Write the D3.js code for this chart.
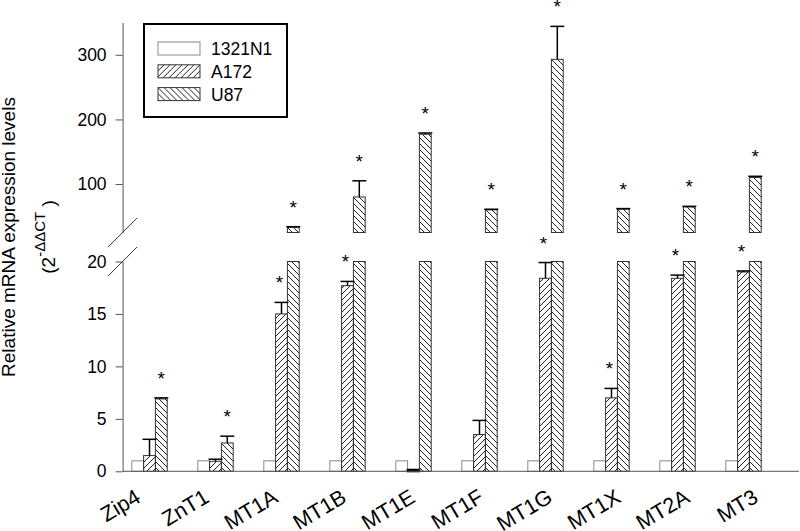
<!DOCTYPE html>
<html>
<head>
<meta charset="utf-8">
<script src="https://cdn.jsdelivr.net/npm/d3@7"></script>
<style>
  body { margin: 0; background: #fff; }
  svg text { font-family: "Liberation Sans", Arial, sans-serif; }
</style>
</head>
<body>
<svg id="chart" width="800" height="531"></svg>
<script>
// data
let genes = ["Zip4","ZnT1","MT1A","MT1B","MT1E","MT1F","MT1G","MT1X","MT2A","MT3"];
let lines = ["1321N1","A172","U87"];

let val1321 = [1,1,1,1,1,1,1,1,1,1];
let err1321 = [0,0,0,0,0,0,0,0,0,0];
let valA172 = [1.5, 0.95, 15.0, 17.7, 0.15, 3.5, 18.4, 7.0, 18.4, 19.0];
let errA172 = [1.55, 0.2, 1.1, 0.4, 0, 1.35, 1.5, 0.9, 0.3, 0.1];
let valU87 = [6.9, 2.7, 33, 80, 177, 60, 293, 61, 64.5, 110];
let errU87 = [0.1, 0.65, 1, 25, 2, 1, 51, 1, 1, 2];

let starA172 = [false,false,true,true,false,false,true,true,true,true];
let starU87 = [true,true,true,true,true,true,true,true,true,true];

let lowTicks = [0,5,10,15,20];
let highTicks = [100,200,300];

let width = 800, height = 531;
let axisX = 122.6;
let barW = 11.8;

let svg = d3.select("#chart");

// hatch patterns
let defs = svg.append("defs");
defs.append("pattern")
    .attr("id","fwd").attr("patternUnits","userSpaceOnUse")
    .attr("width",6).attr("height",6)
  .append("path")
    .attr("d","M-1,1 L1,-1 M0,6 L6,0 M5,7 L7,5")
    .attr("stroke","#222").attr("stroke-width",1);
defs.append("pattern")
    .attr("id","back").attr("patternUnits","userSpaceOnUse")
    .attr("width",6).attr("height",6)
  .append("path")
    .attr("d","M-1,5 L1,7 M0,0 L6,6 M5,-1 L7,1")
    .attr("stroke","#222").attr("stroke-width",1);

let fills = ["#fff","url(#fwd)","url(#back)"];

let x = d3.scaleBand().domain(genes).range([116.5, 776.5]);
// tick labels sit on their own, slightly wider spacing
let xLab = d3.scalePoint().domain(genes).range([142, 759.6]);
let yLow = d3.scaleLinear().domain([0,20]).range([471.3, 261.5]);
let yHigh = d3.scaleLinear().domain([25,350]).range([232.5, 22.5]);

let rows = [];
genes.forEach((g,i) => {
  [[val1321,err1321,null],[valA172,errA172,starA172],[valU87,errU87,starU87]].forEach((s,j) => {
    rows.push({gene:g, j:j, v:s[0][i], e:s[1][i], star: s[2] ? s[2][i] : false});
  });
});

let cx = d => x(d.gene) + x.bandwidth()/2 + (d.j-1)*barW;

// lower segment bars (clipped at 20)
svg.append("g").selectAll("rect")
  .data(rows).enter().append("rect")
  .attr("x", d => cx(d) - barW/2)
  .attr("width", barW)
  .attr("y", d => yLow(Math.min(d.v,20)))
  .attr("height", d => yLow(0) - yLow(Math.min(d.v,20)))
  .attr("fill", d => fills[d.j])
  .attr("stroke", d => d.j==1 && d.v < 0.5 ? "#000" : (d.j==0 ? "#888" : "#333"))
  .attr("stroke-width", d => d.j==1 && d.v < 0.5 ? 2 : 1);

// upper segment bars
let high = rows.filter(d => d.v > 20);
svg.append("g").selectAll("rect")
  .data(high).enter().append("rect")
  .attr("x", d => cx(d) - barW/2)
  .attr("width", barW)
  .attr("y", d => yHigh(d.v))
  .attr("height", d => yHigh(25) - yHigh(d.v))
  .attr("fill", d => fills[d.j])
  .attr("stroke","#333").attr("stroke-width",1);

// error bars
let yTop = d => d.v > 20 ? yHigh(d.v + d.e) : yLow(d.v + d.e);
let yVal = d => d.v > 20 ? yHigh(d.v) : yLow(d.v);
let errs = rows.filter(d => d.e > 0);
let eg = svg.append("g").attr("stroke","#000").attr("stroke-width",1.5);
eg.selectAll(".ev").data(errs).enter().append("line")
  .attr("x1", cx).attr("x2", cx)
  .attr("y1", yVal).attr("y2", yTop);
eg.selectAll(".ec").data(errs).enter().append("line")
  .attr("x1", d => cx(d) - 7).attr("x2", d => cx(d) + 7)
  .attr("y1", yTop).attr("y2", yTop);

// significance stars
svg.append("g").selectAll("text")
  .data(rows.filter(d => d.star)).enter().append("text")
  .attr("x", d => cx(d) - (d.j==1 ? 2 : 0))
  .attr("y", d => yTop(d) - 24 + 11)
  .attr("text-anchor","middle")
  .attr("font-size",19)
  .text("*");

// axes
let axLow = svg.append("g").attr("transform","translate(" + axisX + ",0)")
  .call(d3.axisLeft(yLow).tickValues(lowTicks).tickSize(7).tickSizeOuter(0).tickPadding(9));
let axHigh = svg.append("g").attr("transform","translate(" + axisX + ",0)")
  .call(d3.axisLeft(yHigh).tickValues(highTicks).tickSize(7).tickSizeOuter(0).tickPadding(9));
[axLow, axHigh].forEach(a => {
  a.selectAll("path, line").attr("stroke","#555");
  a.selectAll("text").attr("font-size",17.5).attr("fill","#000")
    .attr("font-family","Liberation Sans, Arial, sans-serif");
});

// axis break marks
svg.append("g").attr("stroke","#333").attr("stroke-width",1)
  .selectAll("line").data([yHigh(25), yLow(20)]).enter().append("line")
  .attr("x1", axisX - 14.5).attr("x2", axisX + 14.5)
  .attr("y1", d => d + 14.5).attr("y2", d => d - 14.5);

// x axis
svg.append("line")
  .attr("x1", axisX).attr("x2", 799)
  .attr("y1", yLow(0)).attr("y2", yLow(0))
  .attr("stroke","#555");

svg.append("g").selectAll("text")
  .data(genes).enter().append("text")
  .attr("transform", d => "translate(" + xLab(d) + ",501) rotate(-31)")
  .attr("text-anchor","end")
  .attr("font-size",21.5)
  .text(d => d);

// y title
let yt = svg.append("g").attr("transform","translate(0,237) rotate(-90)");
yt.append("text").attr("x",0).attr("y",15)
  .attr("text-anchor","middle").attr("font-size",19)
  .text("Relative mRNA expression levels");
let t2 = yt.append("text").attr("x",0).attr("y",55)
  .attr("text-anchor","middle").attr("font-size",19);
t2.append("tspan").text("(2");
t2.append("tspan").attr("dy",-10).attr("font-size",15).text("-ΔΔCT");
t2.append("tspan").attr("dy",10).text(" )");

// legend
let lg = svg.append("g");
lg.append("rect").attr("x",144).attr("y",24).attr("width",143).attr("height",93)
  .attr("fill","#fff").attr("stroke","#000").attr("stroke-width",2);
let li = lg.selectAll(".li").data(lines).enter().append("g")
  .attr("transform", (d,i) => "translate(158," + (42 + 22.8*i) + ")");
li.append("rect").attr("width",42).attr("height",13)
  .attr("fill", (d,i) => fills[i])
  .attr("stroke", (d,i) => i==0 ? "#888" : "#333");
li.append("text").attr("x",53).attr("y",13)
  .attr("font-size",17.5).text(d => d);
</script>
</body>
</html>
